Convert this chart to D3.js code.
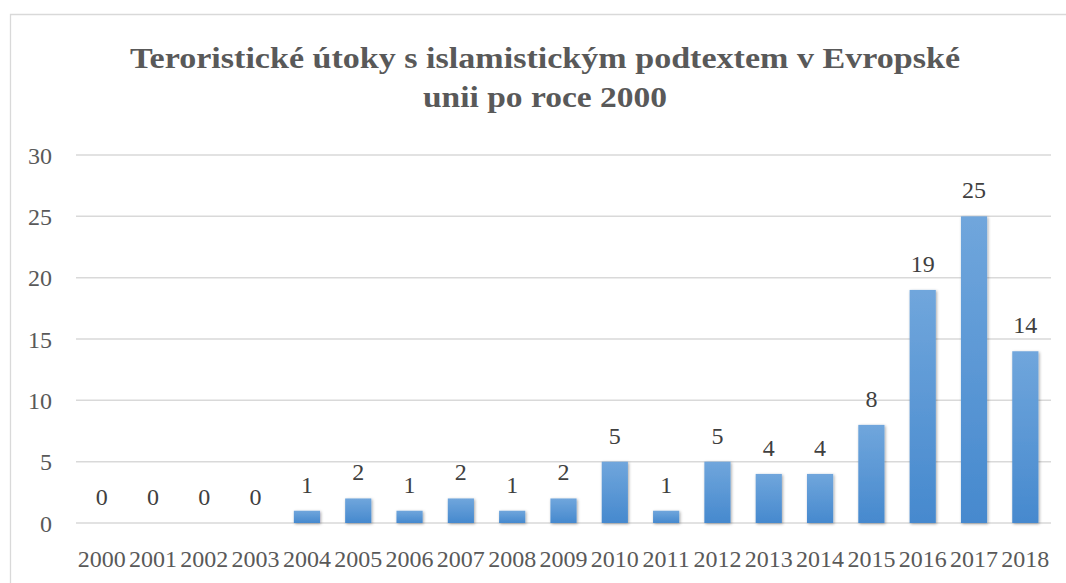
<!DOCTYPE html>
<html><head><meta charset="utf-8">
<script src="https://cdn.jsdelivr.net/npm/d3@7"></script>
<style>body{margin:0;background:#fff}svg{display:block}
svg text{font-family:"Liberation Serif","DejaVu Serif","Noto Serif",serif;}
</style>
</head><body>
<svg id="c" width="1066" height="583"></svg>
<script>
const years = ["2000","2001","2002","2003","2004","2005","2006","2007","2008","2009","2010","2011","2012","2013","2014","2015","2016","2017","2018"];
const attacks = [0,0,0,0,1,2,1,2,1,2,5,1,5,4,4,8,19,25,14];
const yTicks = [0,5,10,15,20,25,30];
const titleLines = ["Teroristické útoky s islamistickým podtextem v Evropské", "unii po roce 2000"];

(function(){
const svg = d3.select("#c");
const pLeft = 76, pRight = 1051, pTop = 155, pBottom = 523;

const defs = svg.append("defs");
const g = defs.append("linearGradient").attr("id","bg").attr("x1",0).attr("y1",0).attr("x2",0).attr("y2",1);
g.append("stop").attr("offset","0%").attr("stop-color","#70a6dc");
g.append("stop").attr("offset","100%").attr("stop-color","#4689ce");
const f = defs.append("filter").attr("id","sh").attr("x","-30%").attr("y","-30%").attr("width","160%").attr("height","160%");
f.append("feDropShadow").attr("dx",1).attr("dy",1).attr("stdDeviation",1.6).attr("flood-color","#000").attr("flood-opacity",0.35);

svg.append("path").attr("d","M10.5,583 L10.5,14.5 L1066,14.5").attr("fill","none").attr("stroke","#d9d9d9").attr("stroke-width",1.3);

const x = d3.scaleBand().domain(years).range([pLeft, pRight]).paddingInner(0.49).paddingOuter(0.245);
const y = d3.scaleLinear().domain([0,30]).range([pBottom, pTop]);

svg.append("g").selectAll("line").data(yTicks).join("line")
  .attr("x1", pLeft).attr("x2", pRight).attr("y1", d=>y(d)).attr("y2", d=>y(d))
  .attr("stroke","#d9d9d9").attr("stroke-width",1.5);

const ya = svg.append("g").attr("transform",`translate(${pLeft},0)`)
  .call(d3.axisLeft(y).tickValues(yTicks).tickSize(0).tickPadding(24));
ya.select(".domain").remove();
ya.attr("font-family",null).attr("font-size",null);
ya.selectAll("text").attr("font-size",24).attr("fill","#595959").attr("dy","0.34em");

const xa = svg.append("g").attr("transform",`translate(0,${pBottom})`)
  .call(d3.axisBottom(x).tickSize(0).tickPadding(27));
xa.select(".domain").remove();
xa.attr("font-family",null).attr("font-size",null);
xa.selectAll("text").attr("font-size",24).attr("fill","#595959").attr("dy","0.71em");

svg.append("g").selectAll("rect").data(years).join("rect")
  .attr("x", d=>x(d)).attr("width", x.bandwidth())
  .attr("y", (d,i)=>y(attacks[i])).attr("height",(d,i)=>y(0)-y(attacks[i]))
  .attr("fill","url(#bg)").attr("filter","url(#sh)");

svg.append("g").selectAll("text").data(years).join("text")
  .attr("x", d=>x(d)+x.bandwidth()/2).attr("y",(d,i)=>y(attacks[i])-18)
  .attr("text-anchor","middle").attr("font-size",24).attr("fill","#404040")
  .text((d,i)=>attacks[i]);

const tt = svg.append("g");
tt.append("text").attr("x",545).attr("y",67.5).attr("text-anchor","middle")
  .attr("font-weight","bold").attr("font-size",30).attr("fill","#595959")
  .attr("textLength",830).attr("lengthAdjust","spacingAndGlyphs").text(titleLines[0]);
tt.append("text").attr("x",545).attr("y",106.5).attr("text-anchor","middle")
  .attr("font-weight","bold").attr("font-size",30).attr("fill","#595959")
  .attr("textLength",244).attr("lengthAdjust","spacingAndGlyphs").text(titleLines[1]);
})();
</script>
</body></html>
